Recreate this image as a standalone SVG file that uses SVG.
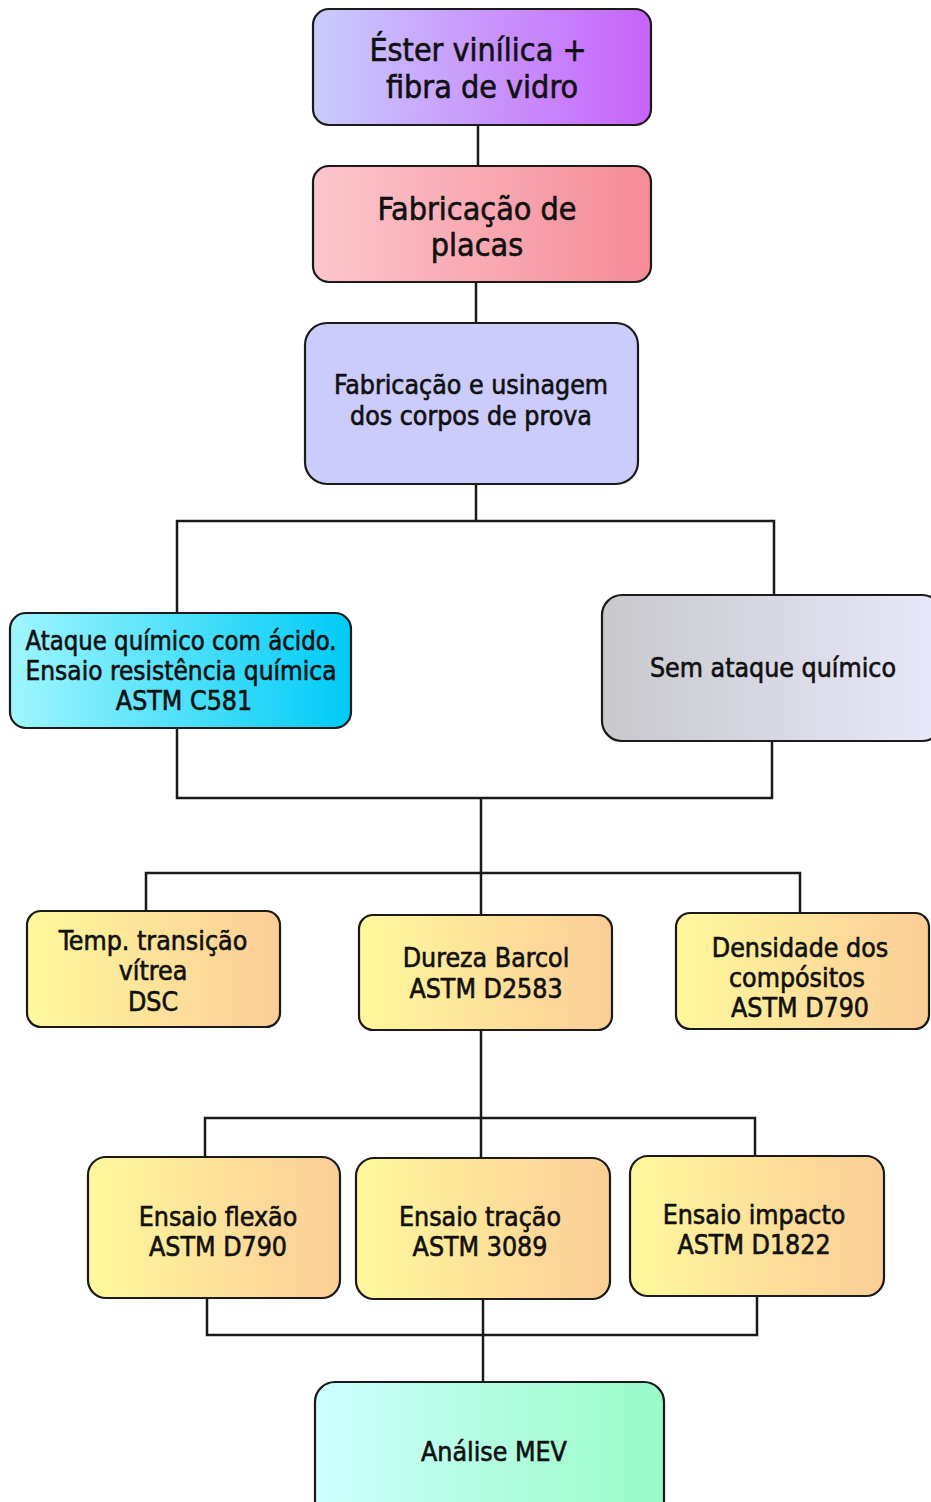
<svg xmlns="http://www.w3.org/2000/svg" width="931" height="1502" viewBox="0 0 931 1502">
<defs>
<linearGradient id="gPurple" x1="0" y1="0" x2="1" y2="0"><stop offset="0" stop-color="#c9ccfe"/><stop offset="1" stop-color="#c763fa"/></linearGradient>
<linearGradient id="gPink" x1="0" y1="0" x2="1" y2="0"><stop offset="0" stop-color="#fcc6cc"/><stop offset="1" stop-color="#f58b97"/></linearGradient>
<linearGradient id="gCyan" x1="0" y1="0" x2="1" y2="0"><stop offset="0" stop-color="#9ff6fe"/><stop offset="1" stop-color="#00cbf7"/></linearGradient>
<linearGradient id="gGrey" x1="0" y1="0" x2="1" y2="0"><stop offset="0" stop-color="#c8c8cc"/><stop offset="1" stop-color="#e8e8fb"/></linearGradient>
<linearGradient id="gYellow" x1="0" y1="0" x2="1" y2="0"><stop offset="0" stop-color="#fef89c"/><stop offset="1" stop-color="#fccd97"/></linearGradient>
<linearGradient id="gMint" x1="0" y1="0" x2="1" y2="0"><stop offset="0" stop-color="#cdfffe"/><stop offset="1" stop-color="#98fbc6"/></linearGradient>
</defs>
<style>
.box{stroke:#1a1a1a;stroke-width:2.2}
.t{font-family:"DejaVu Sans Condensed","DejaVu Sans",sans-serif;font-stretch:condensed;fill:#111;stroke:#111;stroke-width:0.6;text-anchor:middle}
.big{font-size:32px}
.mid{font-size:26.5px}
.conn{fill:none;stroke:#1a1a1a;stroke-width:2.5}
</style>
<g id="connectors" class="conn">
<path d="M478 125V166"/>
<path d="M476 282V323"/>
<path d="M476 484V521M177 613V521H774V595"/>
<path d="M177 728V798H772V741"/>
<path d="M481 798V915"/>
<path d="M146 911V873H800V913"/>
<path d="M481 1030V1158"/>
<path d="M205 1157V1118H755V1156"/>
<path d="M207 1298V1335H757V1296"/>
<path d="M483 1299V1382"/>
</g>
<g id="n1"><rect class="box" x="313" y="9" width="338" height="116" rx="16" fill="url(#gPurple)"/>
<text class="t big" x="478" y="61">Éster vinílica +</text><text class="t big" x="482" y="98">fibra de vidro</text></g>
<g id="n2"><rect class="box" x="313" y="166" width="338" height="116" rx="16" fill="url(#gPink)"/>
<text class="t big" x="477" y="220">Fabricação de</text><text class="t big" x="477" y="256">placas</text></g>
<g id="n3"><rect class="box" x="305" y="323" width="333" height="161" rx="22" fill="#cbcbfc"/>
<text class="t mid" x="471" y="394">Fabricação e usinagem</text><text class="t mid" x="471" y="425">dos corpos de prova</text></g>
<g id="n4"><rect class="box" x="10" y="613" width="341" height="115" rx="16" fill="url(#gCyan)"/>
<text class="t mid" x="181" y="650" textLength="311" lengthAdjust="spacingAndGlyphs">Ataque químico com ácido.</text><text class="t mid" x="181" y="680" textLength="311" lengthAdjust="spacingAndGlyphs">Ensaio resistência química</text><text class="t mid" x="184" y="710">ASTM C581</text></g>
<g id="n5"><rect class="box" x="602" y="595" width="340" height="146" rx="20" fill="url(#gGrey)"/>
<text class="t mid" x="773" y="677">Sem ataque químico</text></g>
<g id="n6"><rect class="box" x="27" y="911" width="253" height="116" rx="14" fill="url(#gYellow)"/>
<text class="t mid" x="153" y="950">Temp. transição</text><text class="t mid" x="153" y="980">vítrea</text><text class="t mid" x="153" y="1011">DSC</text></g>
<g id="n7"><rect class="box" x="359" y="915" width="253" height="115" rx="14" fill="url(#gYellow)"/>
<text class="t mid" x="486" y="967">Dureza Barcol</text><text class="t mid" x="486" y="998">ASTM D2583</text></g>
<g id="n8"><rect class="box" x="676" y="913" width="253" height="116" rx="14" fill="url(#gYellow)"/>
<text class="t mid" x="800" y="957">Densidade dos</text><text class="t mid" x="797" y="987">compósitos</text><text class="t mid" x="800" y="1017">ASTM D790</text></g>
<g id="n9"><rect class="box" x="88" y="1157" width="252" height="141" rx="18" fill="url(#gYellow)"/>
<text class="t mid" x="218" y="1226">Ensaio flexão</text><text class="t mid" x="218" y="1256">ASTM D790</text></g>
<g id="n10"><rect class="box" x="356" y="1158" width="254" height="141" rx="18" fill="url(#gYellow)"/>
<text class="t mid" x="480" y="1226">Ensaio tração</text><text class="t mid" x="480" y="1256">ASTM 3089</text></g>
<g id="n11"><rect class="box" x="630" y="1156" width="254" height="140" rx="18" fill="url(#gYellow)"/>
<text class="t mid" x="754" y="1224">Ensaio impacto</text><text class="t mid" x="754" y="1254">ASTM D1822</text></g>
<g id="n12"><rect class="box" x="315" y="1382" width="349" height="140" rx="20" fill="url(#gMint)"/>
<text class="t mid" x="494" y="1461">Análise MEV</text></g>
</svg>
